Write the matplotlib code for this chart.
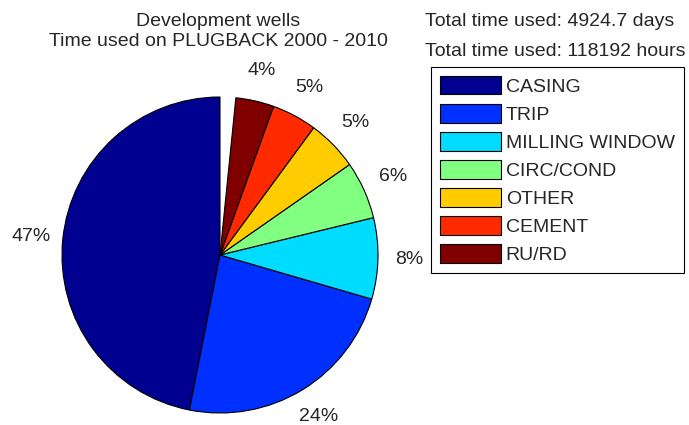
import matplotlib
matplotlib.use("Agg")
import matplotlib.pyplot as plt

plt.rcParams["font.family"] = ["Liberation Sans", "DejaVu Sans"]

# time fractions per operation (pie is partial: shares sum to < 1)
categories = ["CASING", "TRIP", "MILLING WINDOW", "CIRC/COND", "OTHER", "CEMENT", "RU/RD"]
shares = [0.469, 0.236, 0.083, 0.059, 0.052, 0.046, 0.039]
pct_labels = [f"{round(v * 100)}%" for v in shares]
title_lines = ["Development wells", "Time used on PLUGBACK 2000 - 2010"]
totals = ["Total time used: 4924.7 days", "Total time used: 118192 hours"]

INK = "#262626"
FS = 14
colors = ["#000090", "#0030ff", "#00dcff", "#80ff80", "#ffcc00", "#ff2a00", "#800000"]

fig = plt.figure(figsize=(6.89, 4.25), dpi=100)
ax = fig.add_axes([62 / 689, 1 - 413 / 425, 316 / 689, 316 / 425])

wedges, texts = ax.pie(shares, normalize=False, startangle=90, counterclock=True,
                       colors=colors, labels=pct_labels, labeldistance=1.2,
                       wedgeprops=dict(edgecolor="black", linewidth=0.8),
                       textprops=dict(fontsize=FS, color=INK))
for t in texts:
    t.set_horizontalalignment("center")
    t.set_verticalalignment("center")
ax.set_xlim(-1, 1)
ax.set_ylim(-1, 1)
ax.set_aspect("equal")

fig.text(218 / 689, 1 - 22 / 425, title_lines[0], ha="center", va="center",
         fontsize=FS, color=INK)
fig.text(218 / 689, 1 - 42 / 425, title_lines[1], ha="center", va="center",
         fontsize=FS, color=INK)
fig.text(425 / 689, 1 - 21 / 425, totals[0], ha="left", va="center",
         fontsize=FS, color=INK)
fig.text(425 / 689, 1 - 51 / 425, totals[1], ha="left", va="center",
         fontsize=FS, color=INK)

leg = fig.legend(wedges, categories, loc="upper left",
                 bbox_to_anchor=(431 / 689, 1 - 67 / 425), borderaxespad=0,
                 fontsize=FS, handlelength=3.15, handleheight=1.1,
                 handletextpad=0.25, labelspacing=0.42, borderpad=0.45,
                 fancybox=False, framealpha=1, edgecolor="black")
leg.get_frame().set_linewidth(0.8)
for t in leg.get_texts():
    t.set_color(INK)

fig.savefig("out.png", dpi=100, facecolor="white")
